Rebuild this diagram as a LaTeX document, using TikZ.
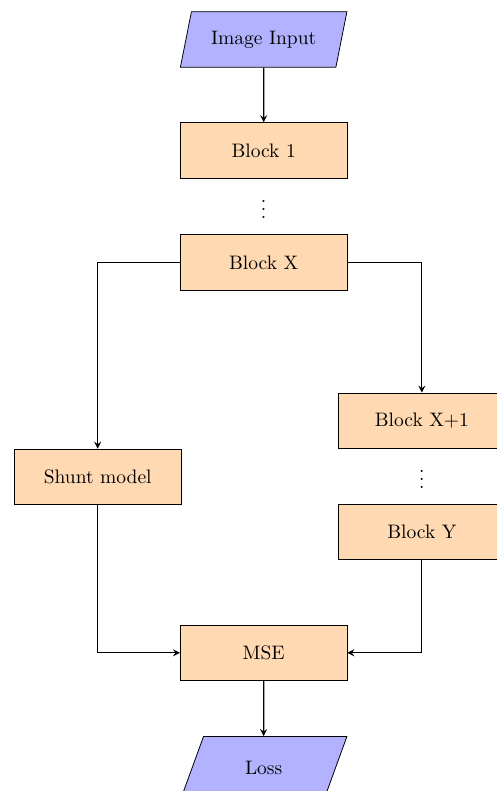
\documentclass[tikz,border=0pt]{standalone}
\usepackage{tikz}
\usetikzlibrary{shapes.geometric}
\usepackage{xcolor}

\tikzset{
    block/.style={rectangle, draw, fill=orange!30, minimum width=3cm, minimum height=1cm},
    io/.style={trapezium, draw, fill=blue!30, trapezium left angle=70, trapezium right angle=110,
        minimum width=3cm, minimum height=1cm},
    arrow/.style={semithick, ->, >=stealth}
}

\begin{document}
\begin{tikzpicture}
    \useasboundingbox (0,0) rectangle (8.94,-14.25);
    % main column
    \node[io, trapezium stretches body] (input) at (4.75,-0.71) {Image Input};
    \node[block] (block1) at ([yshift=-2cm]input.center) {Block 1};
    \node (dots1) at ([yshift=-0.96cm]block1.center) {$\vdots$};
    \node[block] (blockX) at ([yshift=-2.02cm]block1.center) {Block X};
    % the two branches
    \node[block] (shunt) at ([shift={(-2.99,-3.86)}]blockX.center) {Shunt model};
    \node[block] (blockX1) at ([shift={(2.85,-2.85)}]blockX.center) {Block X+1};
    \node (dots2) at ([yshift=-0.95cm]blockX1.center) {$\vdots$};
    \node[block] (blockY) at ([yshift=-2cm]blockX1.center) {Block Y};
    % loss
    \node[block] (mse) at (4.75,-11.76) {MSE};
    \node[io] (loss) at ([yshift=-2.08cm]mse.center) {Loss};

    \draw[arrow] (input) -- (block1);
    \draw[arrow] (blockX.west) -| (shunt.north);
    \draw[arrow] (blockX.east) -| (blockX1.north);
    \draw[arrow] (shunt.south) |- (mse.west);
    \draw[arrow] (blockY.south) |- (mse.east);
    \draw[arrow] (mse) -- (loss);
\end{tikzpicture}
\end{document}
